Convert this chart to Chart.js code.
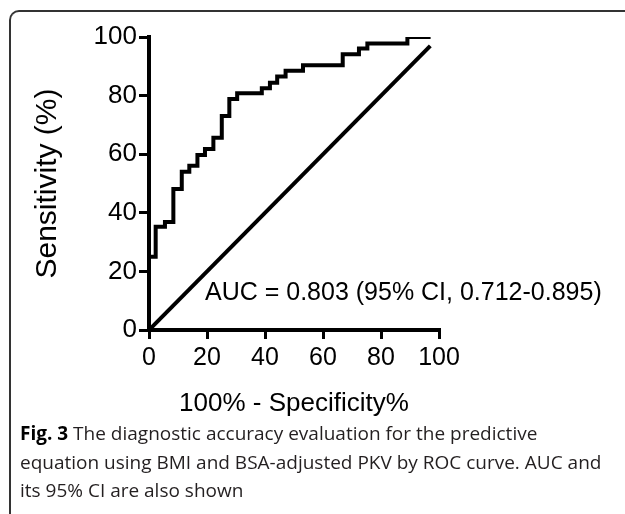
<!DOCTYPE html>
<html>
<head>
<meta charset="utf-8">
<script src="https://cdn.jsdelivr.net/npm/chart.js@4.4.1/dist/chart.umd.min.js"></script>
<style>
    html, body { margin: 0; padding: 0; background: #fff; }
    body { width: 625px; height: 514px; overflow: hidden; position: relative; }
    #frame {
        position: absolute; left: 9px; top: 10px; width: 700px; height: 600px;
        border-top: 2px solid #333; border-left: 2px solid #333;
        border-top-left-radius: 10px;
    }
    #chart-wrap { position: absolute; left: 0; top: 0; width: 625px; height: 430px; }
    #caption {
        position: absolute; left: 20px; top: 419px; width: 600px;
        font-family: "Open Sans", sans-serif; font-size: 19px; line-height: 28.5px;
        color: #231f20; white-space: nowrap;
    }
    #caption b { color: #000; }
</style>
</head>
<body>
<div id="frame"></div>
<div id="chart-wrap"><canvas id="roc-chart"></canvas></div>
<div id="caption"><b>Fig. 3</b> The diagnostic accuracy evaluation for the predictive<br>equation using BMI and BSA-adjusted PKV by ROC curve. AUC and<br>its 95% CI are also shown</div>

<script>
// ROC curve points (100% - specificity, sensitivity)
const rocFpr = [0, 0, 2.3, 5.5, 8.4, 11.3, 13.9, 16.7, 19.3, 22.2, 25.1, 27.7, 30.4, 38.9, 41.7, 44.2, 47.1, 53.1, 66.8, 72.4, 75.3, 89.1, 97.1];
const rocTpr = [0, 25, 35.2, 36.9, 48.1, 54.0, 56.1, 59.7, 61.8, 65.6, 73.0, 78.8, 80.8, 82.5, 84.4, 86.5, 88.5, 90.4, 94.1, 96.1, 97.8, 100, 100];

// chance (reference) line
const refX = [0, 97];
const refY = [0, 97];

// axis ticks and labels
const xTicks = [0, 20, 40, 60, 80, 100];
const yTicks = [0, 20, 40, 60, 80, 100];
const xTitle = '100% - Specificity%';
const yTitle = 'Sensitivity (%)';
const aucLabel = 'AUC = 0.803 (95% CI, 0.712-0.895)';

const FONT = '"Liberation Sans", Arial, sans-serif';

function toPoints(xs, ys) {
    return xs.map((x, i) => ({ x: x, y: ys[i] }));
}

// Draws the AUC text inside the plot
const aucPlugin = {
    id: 'aucLabel',
    afterDatasetsDraw(chart) {
        const { ctx, scales } = chart;
        ctx.save();
        ctx.font = '25px ' + FONT;
        ctx.fillStyle = '#000';
        ctx.textAlign = 'left';
        ctx.textBaseline = 'alphabetic';
        ctx.fillText(aucLabel, scales.x.getPixelForValue(19.3), scales.y.getPixelForValue(10.2));
        ctx.restore();
    }
};

function setupChart() {
    const ctx = document.getElementById('roc-chart');
    new Chart(ctx, {
        type: 'line',
        data: {
            datasets: [{
                label: 'ROC',
                data: toPoints(rocFpr, rocTpr),
                borderColor: '#000',
                borderWidth: 4,
                pointRadius: 0,
                stepped: 'before',
                fill: false
            }, {
                label: 'Reference',
                data: toPoints(refX, refY),
                borderColor: '#000',
                borderWidth: 4,
                pointRadius: 0,
                fill: false
            }]
        },
        options: {
            responsive: true,
            maintainAspectRatio: false,
            animation: false,
            devicePixelRatio: 1,
            layout: { padding: { left: 20, top: 37, right: 186, bottom: 0 } },
            plugins: { legend: { display: false }, tooltip: { enabled: false } },
            scales: {
                x: {
                    type: 'linear',
                    min: 0,
                    max: 100,
                    afterFit: (scale) => { scale.height = 100; },
                    afterBuildTicks: (scale) => { scale.ticks = xTicks.map(v => ({ value: v })); },
                    border: { display: true, color: '#000', width: 4 },
                    grid: { drawOnChartArea: false, drawTicks: true, tickLength: 9, color: '#000', lineWidth: 3 },
                    ticks: { color: '#000', padding: 4, font: { family: FONT, size: 25 } },
                    title: {
                        display: true, text: xTitle, color: '#000',
                        font: { family: FONT, size: 26, lineHeight: 1 },
                        padding: { top: 0, bottom: 13 }
                    }
                },
                y: {
                    type: 'linear',
                    min: 0,
                    max: 100,
                    afterFit: (scale) => { scale.width = 129; },
                    afterBuildTicks: (scale) => { scale.ticks = yTicks.map(v => ({ value: v })); },
                    border: { display: true, color: '#000', width: 4 },
                    grid: { drawOnChartArea: false, drawTicks: true, tickLength: 10, color: '#000', lineWidth: 3 },
                    ticks: { color: '#000', padding: 2, font: { family: FONT, size: 26 } },
                    title: {
                        display: true, text: yTitle, color: '#000',
                        font: { family: FONT, size: 30, lineHeight: 1 },
                        padding: { top: 13, bottom: 0 }
                    }
                }
            }
        },
        plugins: [aucPlugin]
    });
}

document.addEventListener('DOMContentLoaded', setupChart);
</script>
</body>
</html>
